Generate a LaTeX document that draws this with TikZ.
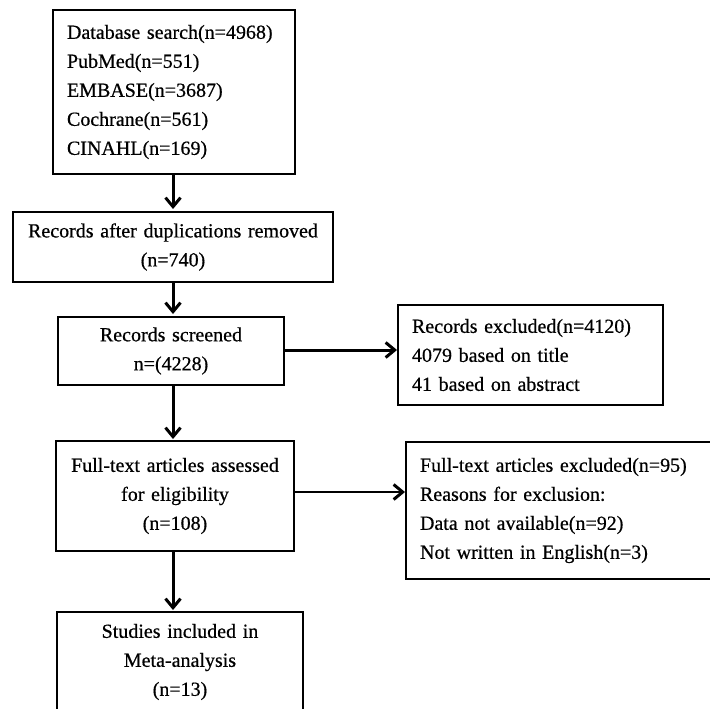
\documentclass[tikz,border=0pt]{standalone}
\usepackage{fontspec}
\setmainfont{Liberation Serif}
\newfontfamily\heavyserif{Liberation Serif}[FakeBold=0.6]
\usetikzlibrary{arrows.meta}
\begin{document}
\begin{tikzpicture}[x=1pt,y=-1pt,
  box/.style={draw, line width=2pt, anchor=north west, inner xsep=14pt, inner ysep=0pt,
    font=\heavyserif\fontsize{20}{29}\selectfont},
  lbox/.style={box, align=left},
  cbox/.style={box, align=center},
  varr/.style={line width=3pt, -{Straight Barb[length=9pt,width=15pt,line width=3pt]}},
  harr/.style={line width=3pt, -{Straight Barb[length=9pt,width=15pt,line width=3pt]}},
  tharr/.style={line width=1.6pt, -{Straight Barb[length=9pt,width=15pt,line width=3pt]}}
]
\clip (0,0) rectangle (710,709);
\fill[white] (0,0) rectangle (710,709);

\node[lbox, minimum width=242pt, minimum height=164pt, text width=214pt] (b1) at (52,9)
  {Database search(n=4968)\\PubMed(n=551)\\EMBASE(n=3687)\\Cochrane(n=561)\\CINAHL(n=169)};
\node[cbox, minimum width=320pt, minimum height=70pt, text width=292pt] (b2) at (12,211)
  {Records after duplications removed\\(n=740)};
\node[cbox, minimum width=226pt, minimum height=68pt, text width=198pt] (b3) at (57,316)
  {Records screened\\n=(4228)};
\node[cbox, minimum width=238pt, minimum height=110pt, text width=210pt] (b4) at (55,440)
  {Full-text articles assessed\\for eligibility\\(n=108)};
\node[cbox, minimum width=246pt, minimum height=100pt, text width=218pt] (b5) at (56,611)
  {Studies included in\\Meta-analysis\\(n=13)};
\node[lbox, minimum width=265pt, minimum height=100pt, text width=237pt] (e1) at (397,304)
  {Records excluded(n=4120)\\4079 based on title\\41 based on abstract};
\node[lbox, minimum width=307pt, minimum height=137pt, text width=279pt] (e2) at (405,441)
  {Full-text articles excluded(n=95)\\Reasons for exclusion:\\Data not available(n=92)\\Not written in English(n=3)};

\coordinate (x0) at (173,0);
\draw[varr] (b1.south -| x0) -- ([yshift=2pt]b2.north -| x0);
\draw[varr] (b2.south -| x0) -- ([yshift=2pt]b3.north -| x0);
\draw[varr] (b3.south -| x0) -- ([yshift=1pt]b4.north -| x0);
\draw[varr] (b4.south -| x0) -- ([yshift=1pt]b5.north -| x0);
\coordinate (y1) at (0,350);
\coordinate (y2) at (0,492);
\draw[harr] (b3.east |- y1) -- (e1.west |- y1);
\draw[tharr] (b4.east |- y2) -- (e2.west |- y2);
\end{tikzpicture}
\end{document}
